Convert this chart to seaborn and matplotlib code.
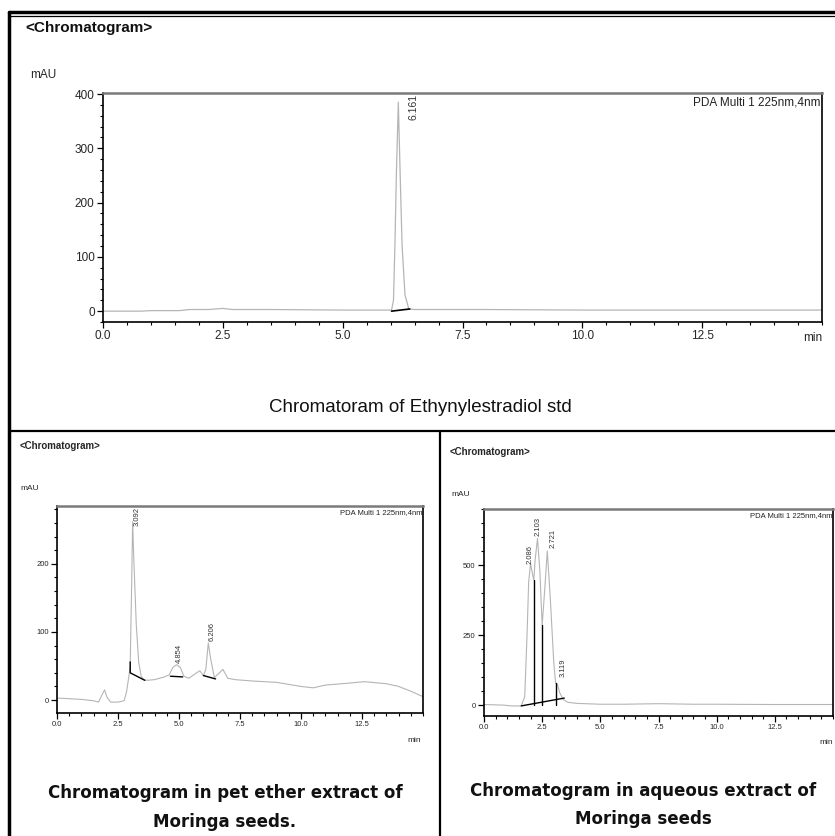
import numpy as np
import pandas as pd
import matplotlib
matplotlib.use("Agg")
import matplotlib.pyplot as plt
import seaborn as sns
from matplotlib import font_manager
from matplotlib.ticker import MultipleLocator, FixedLocator, FormatStrFormatter

# ---------------- data ----------------
# Standard: Ethynylestradiol
std_time = [0.0, 0.8, 1.0, 1.6, 1.8, 2.2, 2.5, 2.7, 3.5, 5.0, 5.95, 6.02, 6.06, 6.09, 6.12, 6.161,
            6.20, 6.24, 6.30, 6.38, 6.5, 8.0, 10.0, 12.5, 15.0]
std_mau = [0, 0, 1, 1, 3, 3, 5, 3, 3, 2, 2, 2, 20, 120, 250, 385, 250, 120, 30, 4, 3, 3, 2, 2, 2]
std_peak_rt = [6.161]
std_peak_height = [385]
std_peak_label = ["6.161"]
std_base_t = [[6.02, 6.40]]
std_base_y = [[0, 4]]

# Pet ether extract
pet_time = [0.0, 0.5, 1.0, 1.5, 1.7, 1.85, 1.95, 2.05, 2.2, 2.5, 2.75, 2.85, 2.95, 3.0, 3.05, 3.1,
            3.15, 3.25, 3.35, 3.45, 3.55, 3.7, 4.0, 4.4, 4.6, 4.75, 4.9, 5.05, 5.2, 5.4, 5.6, 5.85,
            6.0, 6.1, 6.2, 6.3, 6.45, 6.6, 6.8, 7.0, 7.3, 8.0, 9.0, 10.0, 10.5, 11.0, 12.0, 12.6,
            13.5, 14.0, 14.5, 15.0]
pet_mau = [3, 2, 1, -1, -3, 8, 15, 4, -3, -3, -1, 12, 36, 50, 150, 262, 205, 110, 55, 35, 30, 29,
           30, 34, 37, 48, 52, 48, 35, 32, 37, 43, 36, 45, 84, 60, 33, 38, 45, 32, 30, 28, 26, 20,
           18, 22, 25, 27, 24, 20, 13, 5]
pet_peak_rt = [3.092, 4.854, 6.206]
pet_peak_height = [262, 52, 84]
pet_peak_label = ["3.092", "4.854", "6.206"]
pet_base_t = [[3.0, 3.0, 3.6], [4.65, 5.15], [6.0, 6.5]]
pet_base_y = [[56, 40, 29], [35, 34], [36, 31]]

# Aqueous extract
aq_time = [0.0, 0.8, 1.2, 1.6, 1.75, 1.85, 1.92, 2.0, 2.08, 2.14, 2.2, 2.3, 2.4, 2.5, 2.6, 2.72,
           2.85, 3.0, 3.08, 3.15, 3.25, 3.4, 3.6, 4.0, 5.0, 6.0, 7.5, 9.0, 10.0, 12.5, 15.0]
aq_mau = [2, 0, -3, -3, 30, 250, 440, 505, 470, 446, 520, 595, 480, 285, 400, 550, 380, 150, 78,
          75, 45, 20, 10, 6, 3, 3, 5, 3, 3, 2, 2]
aq_peak_rt = [2.086, 2.103, 2.721, 3.119]
aq_peak_height = [495, 595, 555, 92]
aq_peak_label = ["2.086", "2.103", "2.721", "3.119"]
aq_drop_t = [2.14, 2.5, 3.08]
aq_drop_top = [446, 285, 78]
aq_base_t = [[1.6, 3.45]]
aq_base_y = [[-3, 25]]

x_ticks = [0.0, 2.5, 5.0, 7.5, 10.0, 12.5]

# ---------------- style ----------------
sns.set_theme(style="white")


def has_font(name):
    try:
        font_manager.findfont(font_manager.FontProperties(family=name), fallback_to_default=False)
        return True
    except Exception:
        return False


NARROW = "Liberation Sans Narrow" if has_font("Liberation Sans Narrow") else "Liberation Sans"
ARIAL = "Liberation Sans"
WIDE = "DejaVu Sans"
plt.rcParams["font.family"] = [ARIAL, "DejaVu Sans"]

W, H = 835, 836
fig = plt.figure(figsize=(W / 100, H / 100), dpi=100)


def fx(px):
    return px / W


def fy(py):
    return 1 - py / H


def panel(rect, t, y, ylim, ymaj, ymin, tick_fs, line_w, label_dx, labels, heights, rts,
          label_fs, label_va_top):
    ax = fig.add_axes(rect)
    df = pd.DataFrame({"min": t, "mAU": y})
    sns.lineplot(data=df, x="min", y="mAU", ax=ax, color="#b5b5b5", lw=line_w)
    ax.set_xlim(0, 15)
    ax.set_ylim(*ylim)
    ax.xaxis.set_major_locator(FixedLocator(x_ticks))
    ax.xaxis.set_minor_locator(MultipleLocator(0.5))
    ax.xaxis.set_major_formatter(FormatStrFormatter("%.1f"))
    ax.yaxis.set_major_locator(MultipleLocator(ymaj))
    ax.yaxis.set_minor_locator(MultipleLocator(ymin))
    ax.set_xlabel("")
    ax.set_ylabel("")
    ax.tick_params(which="major", direction="out", length=4, width=0.9, color="black",
                   labelsize=tick_fs, pad=2, bottom=True, left=True)
    ax.tick_params(which="minor", direction="out", length=2.2, width=0.8, color="black",
                   bottom=True, left=True)
    for lab in ax.get_xticklabels() + ax.get_yticklabels():
        lab.set_family(NARROW)
    for s in ["left", "bottom", "right"]:
        ax.spines[s].set_color("black")
        ax.spines[s].set_linewidth(1.2)
    ax.spines["top"].set_color("#7a7a7a")
    ax.spines["top"].set_linewidth(1.8)
    ax.grid(False)
    for rt, dx, h, lab, top in zip(rts, label_dx, heights, labels, label_va_top):
        if top:
            ax.text(rt + dx, ylim[1] - (ylim[1] - ylim[0]) * 0.005, lab, rotation=90,
                    ha="center", va="top", fontsize=label_fs, family=NARROW, color="#333333")
        else:
            ax.text(rt + dx, h + (ylim[1] - ylim[0]) * 0.01, lab, rotation=90,
                    ha="center", va="bottom", fontsize=label_fs, family=NARROW, color="#333333")
    return ax


# ---------- top panel ----------
ax1 = panel([fx(103), fy(322), fx(822 - 103), (322 - 93) / H], std_time, std_mau, (-20, 402),
            100, 20, 8.5, 0.9, [0.32], std_peak_label, std_peak_height, std_peak_rt, 7.5, [True])
for bt, by in zip(std_base_t, std_base_y):
    ax1.plot(bt, by, color="black", lw=1.2)
ax1.text(0.998, 0.985, "PDA Multi 1 225nm,4nm", transform=ax1.transAxes, ha="right", va="top",
         fontsize=8.5, family=ARIAL, color="#222222")

# ---------- bottom-left panel ----------
ax2 = panel([fx(57), fy(713), fx(423 - 57), (713 - 506) / H], pet_time, pet_mau, (-19, 285),
            100, 20, 5.5, 0.8, [0.18, 0.15, 0.17], pet_peak_label, pet_peak_height, pet_peak_rt,
            5.5, [True, False, False])
for bt, by in zip(pet_base_t, pet_base_y):
    ax2.plot(bt, by, color="black", lw=1.0)
ax2.text(0.998, 0.985, "PDA Multi 1 225nm,4nm", transform=ax2.transAxes, ha="right", va="top",
         fontsize=5.5, family=NARROW, color="#222222")

# ---------- bottom-right panel ----------
ax3 = panel([fx(484), fy(716), fx(833 - 484), (716 - 509) / H], aq_time, aq_mau, (-39, 700),
            250, 50, 5.5, 0.8, [-0.1, 0.22, 0.24, 0.27], aq_peak_label, aq_peak_height,
            aq_peak_rt, 5.5, [False, False, False, False])
for xt, top in zip(aq_drop_t, aq_drop_top):
    ax3.plot([xt, xt], [0, top], color="black", lw=1.0)
for bt, by in zip(aq_base_t, aq_base_y):
    ax3.plot(bt, by, color="black", lw=1.0)
ax3.text(0.998, 0.985, "PDA Multi 1 225nm,4nm", transform=ax3.transAxes, ha="right", va="top",
         fontsize=5.5, family=NARROW, color="#222222")

# ---------- texts ----------
fig.text(fx(25), fy(28), "<Chromatogram>", fontsize=11, fontweight="bold", family=ARIAL,
         va="center", ha="left", color="#111111")
fig.text(fx(30), fy(75), "mAU", fontsize=8.5, family=ARIAL, va="center", ha="left")
fig.text(fx(822), fy(338), "min", fontsize=8.5, family=NARROW, va="center", ha="right")
fig.text(fx(420), fy(407), "Chromatoram of Ethynylestradiol std", fontsize=13.5, family=NARROW,
         va="center", ha="center", color="#111111")

fig.text(fx(20), fy(446), "<Chromatogram>", fontsize=7, fontweight="bold", family=NARROW,
         va="center", ha="left")
fig.text(fx(20), fy(489), "mAU", fontsize=6, family=NARROW, va="center", ha="left")
fig.text(fx(421), fy(740), "min", fontsize=6, family=NARROW, va="center", ha="right")
fig.text(fx(225), fy(793), "Chromatogram in pet ether extract of", fontsize=12, fontweight="bold",
         family=WIDE, va="center", ha="center", color="#111111")
fig.text(fx(225), fy(822), "Moringa seeds.", fontsize=12, fontweight="bold", family=WIDE,
         va="center", ha="center", color="#111111")

fig.text(fx(450), fy(452), "<Chromatogram>", fontsize=7, fontweight="bold", family=NARROW,
         va="center", ha="left")
fig.text(fx(451), fy(495), "mAU", fontsize=6, family=NARROW, va="center", ha="left")
fig.text(fx(833), fy(743), "min", fontsize=6, family=NARROW, va="center", ha="right")
fig.text(fx(643), fy(791), "Chromatogram in aqueous extract of", fontsize=12, fontweight="bold",
         family=WIDE, va="center", ha="center", color="#111111")
fig.text(fx(643), fy(819), "Moringa seeds", fontsize=12, fontweight="bold", family=WIDE,
         va="center", ha="center", color="#111111")

# ---------- frame lines ----------
frame = fig.add_axes([0, 0, 1, 1], zorder=-1)
frame.set_xlim(0, W)
frame.set_ylim(H, 0)
frame.axis("off")
frame.plot([9, 9], [12, H], color="black", lw=2.5)
frame.plot([9, W], [12, 12], color="black", lw=2.5)
frame.plot([9, W], [15.5, 15.5], color="black", lw=0.9)
frame.plot([9, W], [431, 431], color="black", lw=1.6)
frame.plot([440, 440], [431, H], color="black", lw=1.6)

fig.savefig("out.png", dpi=100)
